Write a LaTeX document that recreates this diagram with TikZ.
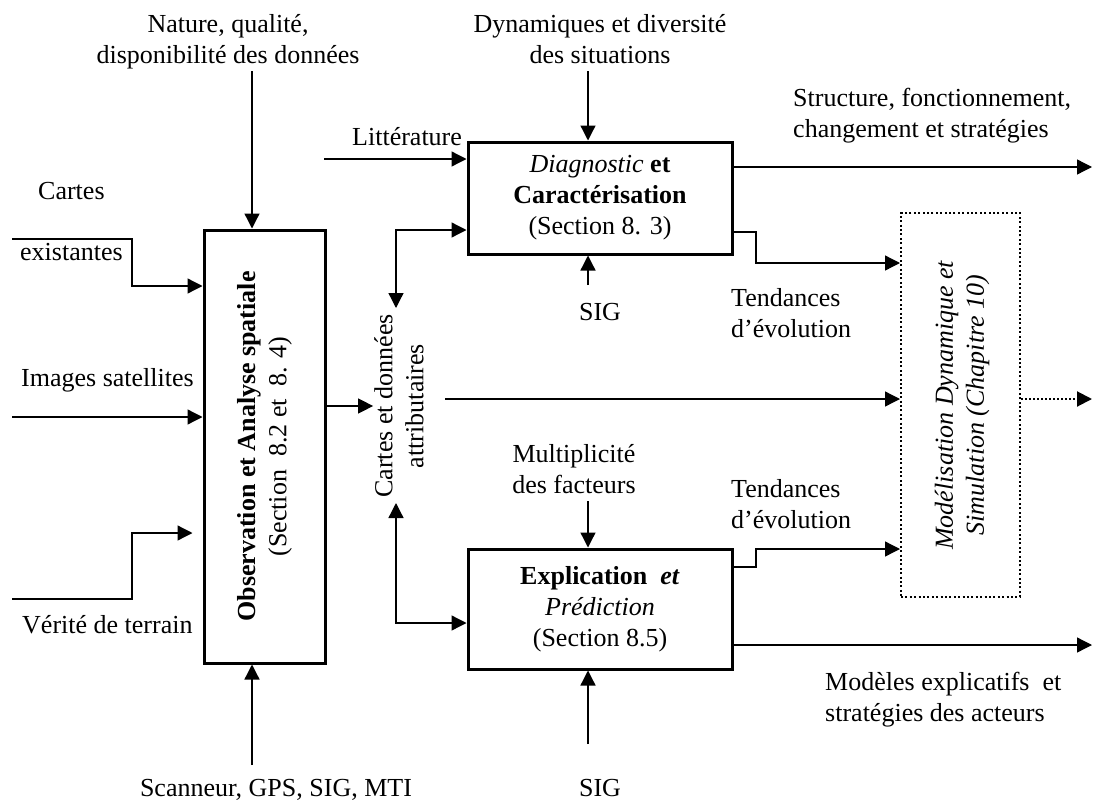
\documentclass[tikz,border=0pt]{standalone}
\usepackage{fontspec}
\setmainfont{Liberation Serif}
\usetikzlibrary{arrows.meta}
\begin{document}
\begin{tikzpicture}[x=1pt,y=-1pt,
  every node/.style={font=\fontsize{26}{31}\selectfont, inner sep=0pt},
  conn/.style={line width=1.3pt, -{Triangle[length=15pt,width=15pt]}},
  dconn/.style={line width=1.3pt, {Triangle[length=15pt,width=15pt]}-{Triangle[length=15pt,width=15pt]}},
  box/.style={draw, line width=3pt, align=center},
  dotbox/.style={draw, line width=2pt, dash pattern=on 2pt off 2.4pt},
  lblc/.style={align=center, anchor=base},
  lbll/.style={align=left, anchor=base west},
  rot/.style={rotate=90, align=center},
]
\useasboundingbox (0,0) rectangle (1093,803);

% boxes
\node[box, minimum width=121pt, minimum height=433pt] (obs) at (264.5,446.5) {};
\node[rot] (obstext) at (obs.center) {\textbf{Observation et Analyse spatiale}\\(Section\ \ 8.2 et\ \ 8. 4)};
\node[box, minimum width=264pt, minimum height=112pt] (diag) at (600,198)
  {\textit{Diagnostic} \textbf{et}\\\textbf{Caractérisation}\\(Section 8. 3)};
\node[box, minimum width=264pt, minimum height=120pt] (expl) at (600,609)
  {\textbf{Explication}\ \ \textbf{\textit{et}}\\\textit{Prédiction}\\(Section 8.5)};
\node[dotbox, minimum width=119pt, minimum height=384pt] (model) at (960.5,405) {};
\node[rot] (modeltext) at (962,405) {\textit{Modélisation Dynamique et}\\\textit{Simulation (Chapitre 10)}};
\node[rot, inner sep=1pt] (cartes) at (399,406) {Cartes et données\\attributaires};

% labels (base = baseline of the last line)
\node[lblc] (nature) at (228,63) {Nature, qualité,\\disponibilité des données};
\node[lblc] (dyn) at (600,63) {Dynamiques et diversité\\des situations};
\node[lbll] (litt) at (352,145) {Littérature};
\node[lbll] (cartesl) at (38,199) {Cartes};
\node[lbll] (exist) at (20,260) {existantes};
\node[lbll] (images) at (21,386) {Images satellites};
\node[lbll] (verite) at (22,633) {Vérité de terrain};
\node[lblc] (scan) at (276,796) {Scanneur, GPS, SIG, MTI};
\node[lblc] (sig1) at (600,320) {SIG};
\node[lblc] (sig2) at (600,796) {SIG};
\node[lbll] (tend1) at (731,337) {Tendances\\d’évolution};
\node[lbll] (tend2) at (731,528) {Tendances\\d’évolution};
\node[lbll] (struct) at (793,137) {Structure, fonctionnement,\\changement et stratégies};
\node[lblc] (multi) at (574,493) {Multiplicité\\des facteurs};
\node[lbll] (modeles) at (825,721) {Modèles explicatifs\ \ et\\stratégies des acteurs};

% free ends
\coordinate (natureEnd) at (252,71);
\coordinate (dynEnd) at (588,71);
\coordinate (sig1End) at (588,285);
\coordinate (multiEnd) at (588,501);
\coordinate (sig2End) at (588,744);
\coordinate (scanEnd) at (252,765);
\coordinate (littEnd) at (324,159);
\coordinate (existEnd) at (12,239);
\coordinate (imagesEnd) at (12,417);
\coordinate (veriteEnd) at (12,599);
\coordinate (cartesTop) at (396,308);
\coordinate (cartesBot) at (396,503);
\coordinate (cartesRight) at (445,399);
\coordinate (structEnd) at (1092,167);
\coordinate (modelesEnd) at (1092,645);
\coordinate (simEnd) at (1092,399);

% connectors
\draw[conn] (natureEnd) -- (natureEnd |- obs.north);
\draw[conn] (scanEnd) -- (scanEnd |- obs.south);
\draw[conn] (existEnd) -- (132,239) -- (132,286) -- (obs.west |- 0,286);
\draw[conn] (imagesEnd) -- (obs.west |- imagesEnd);
\draw[conn, shorten >=10pt] (veriteEnd) -- (132,599) -- (132,533) -- (obs.west |- 0,533);
\draw[conn] (obs.east |- 0,406) -- (cartes.north);

\draw[conn] (dynEnd) -- (dynEnd |- diag.north);
\draw[conn] (sig1End) -- (sig1End |- diag.south);
\draw[conn] (littEnd) -- (diag.west |- littEnd);
\draw[dconn] (cartesTop) |- (diag.west |- 0,230);
\draw[dconn] (cartesBot) |- (expl.west |- 0,623);
\draw[conn] (multiEnd) -- (multiEnd |- expl.north);
\draw[conn] (sig2End) -- (sig2End |- expl.south);

\draw[conn] (diag.east |- structEnd) -- (structEnd);
\draw[conn] (diag.east |- 0,232) -- (756,232) -- (756,263) -- (model.west |- 0,263);
\draw[conn] (cartesRight) -- (model.west |- cartesRight);
\draw[conn] (expl.east |- 0,567) -- (756,567) -- (756,549) -- (model.west |- 0,549);
\draw[conn] (expl.east |- modelesEnd) -- (modelesEnd);
\draw[conn, dash pattern=on 2pt off 2pt, line width=2pt] (model.east |- simEnd) -- (simEnd);
\end{tikzpicture}
\end{document}
